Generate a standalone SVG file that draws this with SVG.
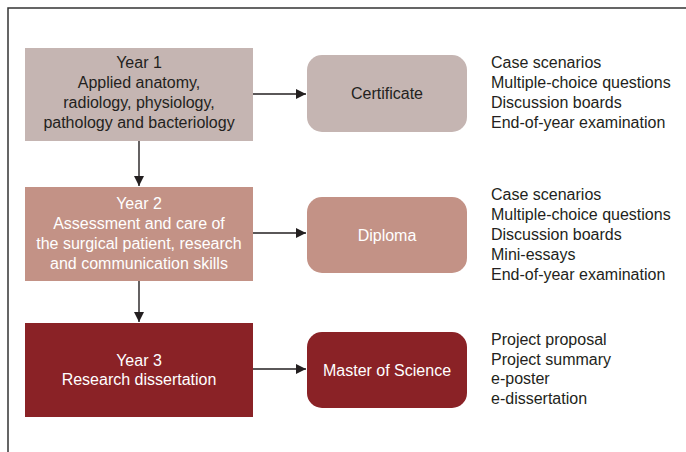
<svg xmlns="http://www.w3.org/2000/svg" width="686" height="452" viewBox="0 0 686 452">
<defs>
<style>
text{font-family:"Liberation Sans",Arial,sans-serif;font-size:16px;}
.dark{fill:#231f20;}
.light{fill:#ffffff;}
.mid{text-anchor:middle;}
.c1{fill:#c5b5b2;}
.c2{fill:#c39286;}
.c3{fill:#8a2226;}
.conn{stroke:#231f20;stroke-width:1.4;fill:none;}
</style>
<marker id="ah" viewBox="0 0 10 10" refX="10" refY="5" markerWidth="10" markerHeight="10" markerUnits="userSpaceOnUse" orient="auto">
<path d="M0,0 L10,5 L0,10 Z" fill="#231f20"/>
</marker>
</defs>
<rect width="686" height="452" fill="#ffffff"/>
<path d="M8,452 V8 H686" fill="none" stroke="#333333" stroke-width="1.5"/>

<g id="year1">
<rect class="c1" x="25" y="48" width="228" height="93"/>
<text class="dark mid" x="139" y="68">Year 1</text>
<text class="dark mid" x="139" y="88">Applied anatomy,</text>
<text class="dark mid" x="139" y="108">radiology, physiology,</text>
<text class="dark mid" x="139" y="128">pathology and bacteriology</text>
</g>
<g id="certificate">
<rect class="c1" x="307" y="55" width="160" height="77" rx="15"/>
<text class="dark mid" x="387" y="99">Certificate</text>
</g>
<g id="assess1">
<text class="dark" x="491" y="68">Case scenarios</text>
<text class="dark" x="491" y="88">Multiple-choice questions</text>
<text class="dark" x="491" y="108">Discussion boards</text>
<text class="dark" x="491" y="128">End-of-year examination</text>
</g>

<g id="year2">
<rect class="c2" x="25" y="187" width="228" height="94"/>
<text class="light mid" x="139" y="209">Year 2</text>
<text class="light mid" x="139" y="229">Assessment and care of</text>
<text class="light mid" x="139" y="249">the surgical patient, research</text>
<text class="light mid" x="139" y="269">and communication skills</text>
</g>
<g id="diploma">
<rect class="c2" x="307" y="197" width="160" height="76" rx="15"/>
<text class="light mid" x="387" y="241">Diploma</text>
</g>
<g id="assess2">
<text class="dark" x="491" y="200">Case scenarios</text>
<text class="dark" x="491" y="220">Multiple-choice questions</text>
<text class="dark" x="491" y="240">Discussion boards</text>
<text class="dark" x="491" y="260">Mini-essays</text>
<text class="dark" x="491" y="280">End-of-year examination</text>
</g>

<g id="year3">
<rect class="c3" x="25" y="323" width="228" height="94"/>
<text class="light mid" x="139" y="366">Year 3</text>
<text class="light mid" x="139" y="385">Research dissertation</text>
</g>
<g id="master">
<rect class="c3" x="307" y="332" width="160" height="76" rx="15"/>
<text class="light mid" x="387" y="376">Master of Science</text>
</g>
<g id="assess3">
<text class="dark" x="491" y="345">Project proposal</text>
<text class="dark" x="491" y="364.5">Project summary</text>
<text class="dark" x="491" y="384">e-poster</text>
<text class="dark" x="491" y="403.5">e-dissertation</text>
</g>

<g id="connectors">
<line class="conn" x1="253" y1="94" x2="306" y2="94" marker-end="url(#ah)"/>
<line class="conn" x1="253" y1="233" x2="306" y2="233" marker-end="url(#ah)"/>
<line class="conn" x1="253" y1="369" x2="306" y2="369" marker-end="url(#ah)"/>
<line class="conn" x1="139" y1="141" x2="139" y2="186" marker-end="url(#ah)"/>
<line class="conn" x1="139" y1="281" x2="139" y2="322" marker-end="url(#ah)"/>
</g>
</svg>
